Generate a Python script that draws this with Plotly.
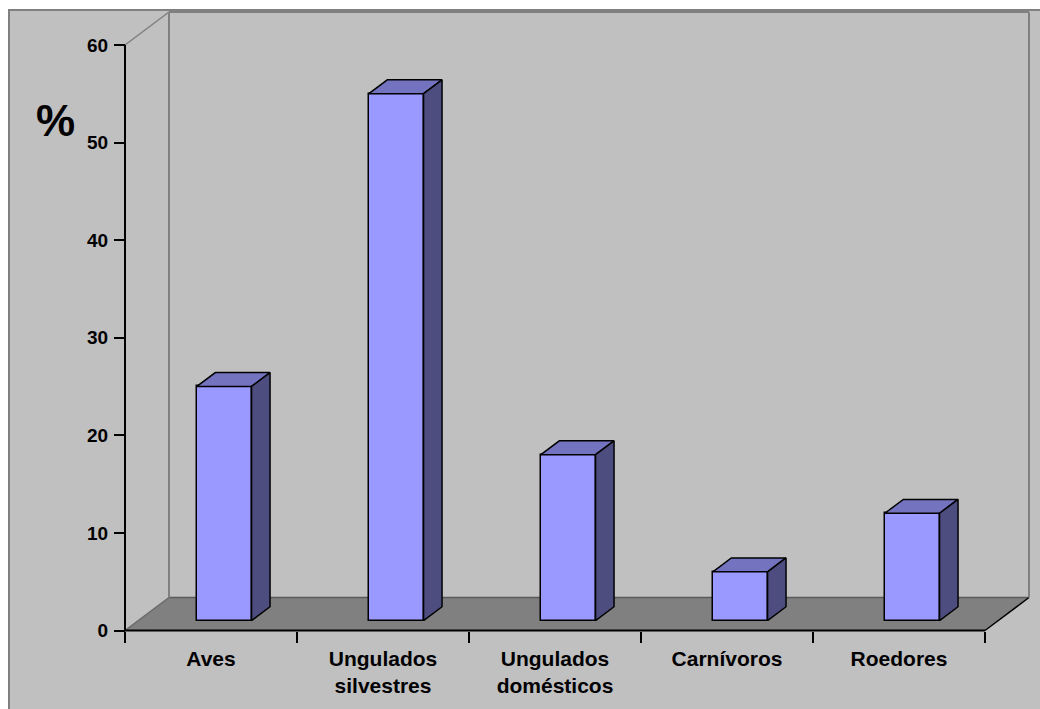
import plotly.graph_objects as go

# ---- data ----
categories = ["Aves", "Ungulados<br>silvestres", "Ungulados<br>domésticos", "Carnívoros", "Roedores"]
values = [24, 54, 17, 5, 11]
y_ticks = [0, 10, 20, 30, 40, 50, 60]
y_label = "%"

# ---- geometry (pixels) ----
W, Hpx = 1040, 709
PL, PR, PT, PB = 120, 1032, 10, 634          # plot area in pixels
X0PX, XSCALE = 125, 172.0                     # x=0 pixel, px per category
Y0PX, YSCALE = 630.5, 585.5 / 60.0            # y=0 pixel, px per unit
DX = 44 / XSCALE                              # depth offset in x units
DY = 33 / YSCALE                              # depth offset in y units
BAR_W = 0.318
F0, FD = 0.30, 0.42                           # bar front depth fraction / bar depth fraction

xr = [(PL - X0PX) / XSCALE, (PR - X0PX) / XSCALE]
yr = [(Y0PX - PB) / YSCALE, (Y0PX - PT) / YSCALE]
ncat = len(categories)
ymax = y_ticks[-1]

def pxx(p):
    return (p - PL) / (PR - PL)

def pxy(p):
    return (PB - p) / (PB - PT)

BLUE = "#9999FF"
TOP = "#7373C0"
SIDE = "#4D4D80"
FLOOR = "#808080"
WALL = "#808080"
BG = "#C0C0C0"
FONT = "Liberation Sans"

fig = go.Figure()

# front faces
bx = [i + 0.5 + F0 * DX for i in range(ncat)]
base = F0 * DY
fig.add_trace(go.Bar(
    x=bx, y=values, base=base, width=BAR_W,
    marker=dict(color=BLUE, line=dict(color="black", width=1.5)),
    hoverinfo="skip", showlegend=False,
))

# top and side faces
ddx, ddy = FD * DX, FD * DY
tx, ty, sx, sy = [], [], [], []
for c, v in zip(bx, values):
    xl, xrr = c - BAR_W / 2, c + BAR_W / 2
    top = base + v
    tx += [xl, xrr, xrr + ddx, xl + ddx, xl, None]
    ty += [top, top, top + ddy, top + ddy, top, None]
    sx += [xrr, xrr + ddx, xrr + ddx, xrr, xrr, None]
    sy += [base, base + ddy, top + ddy, top, base, None]
fig.add_trace(go.Scatter(x=tx, y=ty, mode="lines", fill="toself", fillcolor=TOP,
                         line=dict(color="black", width=1.5), hoverinfo="skip", showlegend=False))
fig.add_trace(go.Scatter(x=sx, y=sy, mode="lines", fill="toself", fillcolor=SIDE,
                         line=dict(color="black", width=1.5), hoverinfo="skip", showlegend=False))

shapes = []
# outer chart area
shapes.append(dict(type="rect", xref="paper", yref="paper", x0=pxx(9), x1=pxx(1050), y0=pxy(10), y1=pxy(730),
                   fillcolor=BG, line=dict(color="#808080", width=2), layer="below"))
# floor
shapes.append(dict(type="path", xref="x", yref="y",
                   path=f"M 0,0 L {ncat},0 L {ncat+DX},{DY} L {DX},{DY} Z",
                   fillcolor=FLOOR, line=dict(width=0), layer="below"))
shapes.append(dict(type="line", xref="x", yref="y", x0=0, y0=0, x1=DX, y1=DY,
                   line=dict(color="#6a6a6a", width=1.5), layer="below"))
shapes.append(dict(type="line", xref="x", yref="y", x0=DX, y0=DY, x1=ncat + DX, y1=DY,
                   line=dict(color="#5a5a5a", width=1.5), layer="below"))
shapes.append(dict(type="line", xref="x", yref="y", x0=ncat, y0=0, x1=ncat + DX, y1=DY,
                   line=dict(color="black", width=1.5), layer="below"))
# back wall edges
shapes.append(dict(type="line", xref="x", yref="y", x0=DX, y0=DY, x1=DX, y1=ymax + DY,
                   line=dict(color=WALL, width=2), layer="below"))
shapes.append(dict(type="line", xref="x", yref="y", x0=DX, y0=ymax + DY, x1=ncat + DX, y1=ymax + DY,
                   line=dict(color=WALL, width=2), layer="below"))
shapes.append(dict(type="line", xref="x", yref="y", x0=ncat + DX, y0=DY, x1=ncat + DX, y1=ymax + DY,
                   line=dict(color=WALL, width=2), layer="below"))
shapes.append(dict(type="line", xref="x", yref="y", x0=0, y0=ymax, x1=DX, y1=ymax + DY,
                   line=dict(color=WALL, width=1.5), layer="below"))
# axis lines
shapes.append(dict(type="line", xref="x", yref="y", x0=0, y0=0, x1=0, y1=ymax,
                   line=dict(color="black", width=2)))
shapes.append(dict(type="line", xref="x", yref="y", x0=0, y0=0, x1=ncat, y1=0,
                   line=dict(color="black", width=2)))

fig.update_layout(
    width=W, height=Hpx,
    margin=dict(l=PL, r=W - PR, t=PT, b=Hpx - PB, pad=0),
    paper_bgcolor="white", plot_bgcolor=BG,
    shapes=shapes,
    bargap=0,
    xaxis=dict(range=xr, anchor="free", position=(PB - Y0PX) / (PB - PT),
               tickmode="array", tickvals=[i + 0.5 for i in range(ncat)], ticktext=categories,
               ticks="", showgrid=False, zeroline=False, showline=False,
               tickfont=dict(family=FONT, size=21, color="black", weight="bold"),
               ticklabelstandoff=13,
               minor=dict(tickmode="array", tickvals=list(range(ncat + 1)), ticks="outside",
                          ticklen=11, tickwidth=2, tickcolor="black", showgrid=False)),
    yaxis=dict(range=yr, anchor="free", position=(X0PX - PL) / (PR - PL),
               tickmode="array", tickvals=y_ticks, ticktext=[str(t) for t in y_ticks],
               ticks="outside", ticklen=11, tickwidth=2, tickcolor="black",
               showgrid=False, zeroline=False, showline=False,
               tickfont=dict(family=FONT, size=19, color="black", weight="bold"),
               ticklabelstandoff=2),
    annotations=[dict(text=y_label, xref="paper", yref="paper", x=pxx(55), y=pxy(120),
                      xanchor="center", yanchor="middle", showarrow=False,
                      font=dict(family=FONT, size=44, color="black", weight="bold"))],
    showlegend=False,
)

fig.write_html("out.html")
